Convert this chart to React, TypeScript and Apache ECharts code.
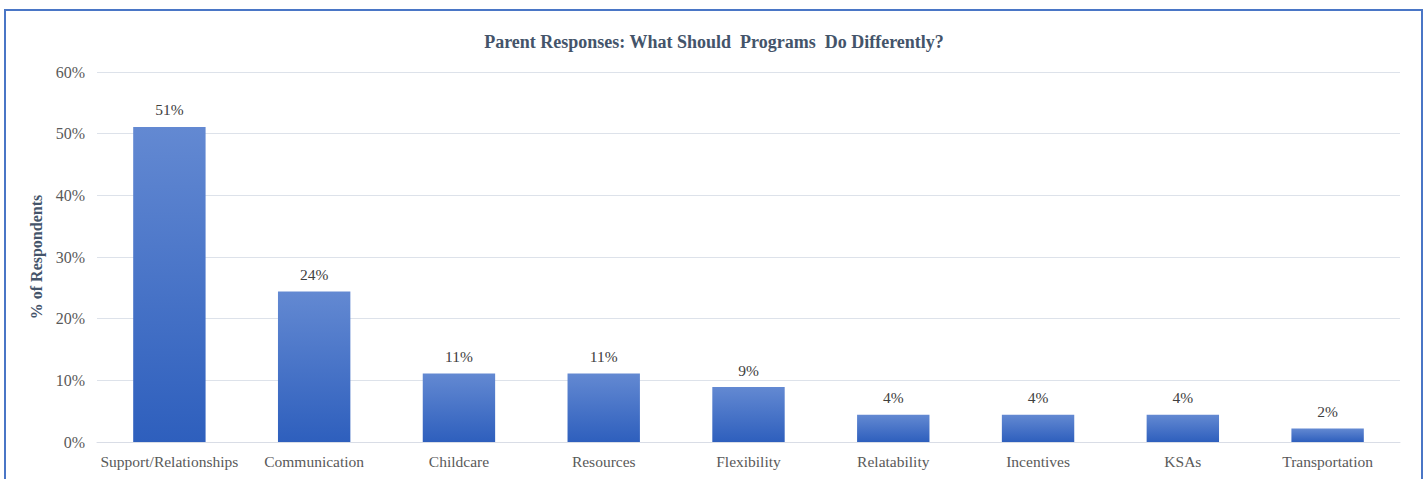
import React, { useEffect, useRef } from "react";
import * as echarts from "echarts";

const categories = [
  "Support/Relationships",
  "Communication",
  "Childcare",
  "Resources",
  "Flexibility",
  "Relatability",
  "Incentives",
  "KSAs",
  "Transportation",
];
const values = [51.1, 24.4, 11.1, 11.1, 8.9, 4.4, 4.4, 4.4, 2.2];
const titleText = "Parent Responses: What Should  Programs  Do Differently?";
const yAxisName = "% of Respondents";

const FONT = "'Liberation Serif', 'Times New Roman', serif";

export default function App() {
  const ref = useRef<HTMLDivElement>(null);
  useEffect(() => {
    if (!ref.current) return;
    const chart = echarts.init(ref.current, null, { renderer: "svg" });
    chart.setOption({
      animation: false,
      backgroundColor: "#ffffff",
      title: {
        text: titleText,
        left: "center",
        top: 28,
        textStyle: { fontFamily: FONT, fontSize: 18, fontWeight: "bold", color: "#44546a" },
      },
      graphic: [
        {
          type: "rect",
          shape: { x: 5, y: 10, width: 1417, height: 490 },
          style: { fill: "none", stroke: "#4a76c6", lineWidth: 2 },
          silent: true,
        },
      ],
      grid: { left: 97, right: 28, top: 72, bottom: 37, containLabel: false },
      xAxis: {
        type: "category",
        data: categories,
        axisLine: { show: true, lineStyle: { color: "#d9dde6", width: 1 } },
        axisTick: { show: false },
        axisLabel: { interval: 0, fontFamily: FONT, fontSize: 15.5, color: "#595959", margin: 11 },
      },
      yAxis: {
        type: "value",
        min: 0,
        max: 60,
        interval: 10,
        name: yAxisName,
        nameLocation: "middle",
        nameGap: 39,
        nameTextStyle: { fontFamily: FONT, fontSize: 16, fontWeight: "bold", color: "#44546a" },
        axisLine: { show: false },
        axisTick: { show: false },
        splitLine: { lineStyle: { color: "#dde2ea", width: 1 } },
        axisLabel: {
          fontFamily: FONT,
          fontSize: 16,
          color: "#595959",
          margin: 12,
          formatter: (v: number) => `${v}%`,
        },
      },
      series: [
        {
          type: "bar",
          data: values,
          barWidth: "50%",
          itemStyle: {
            color: new echarts.graphic.LinearGradient(0, 0, 0, 1, [
              { offset: 0, color: "#6389d2" },
              { offset: 1, color: "#2e5fbd" },
            ]),
          },
          label: {
            show: true,
            position: "top",
            distance: 9,
            fontFamily: FONT,
            fontSize: 15.5,
            color: "#404040",
            formatter: (p: any) => `${Math.round(p.value)}%`,
          },
        },
      ],
    });
    return () => chart.dispose();
  }, []);
  return (
    <div
      ref={ref}
      style={{ position: "fixed", left: 0, top: 0, width: 1428, height: 479 }}
    />
  );
}
